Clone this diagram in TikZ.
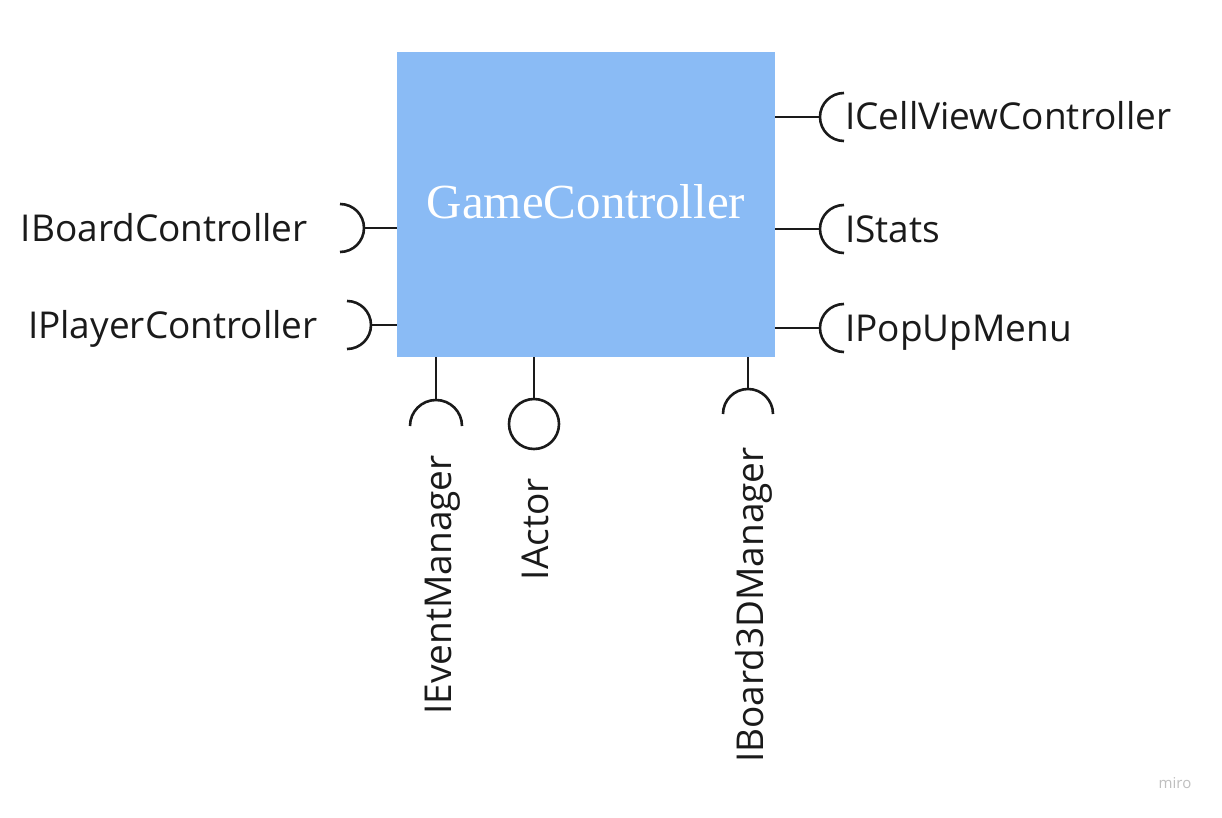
\documentclass[tikz,border=0pt]{standalone}
\usepackage{fontspec}
\setmainfont{Open Sans}
\newfontfamily\serifface{Liberation Serif}
\definecolor{boxblue}{HTML}{8ABBF5}
\definecolor{ink}{HTML}{1A1A1A}
\begin{document}
\begin{tikzpicture}[x=1pt,y=-1pt,
  wire/.style={draw=ink,line width=2.6pt},
  lbl/.style={text=ink,font=\fontsize{37}{40}\selectfont,inner sep=0pt},
  vlbl/.style={lbl,rotate=90,anchor=base east}]
\useasboundingbox (0,0) rectangle (1222,818);
\fill[white] (0,0) rectangle (1222,818);
% main box
\node[fill=boxblue,minimum width=378pt,minimum height=305pt,inner sep=0pt,anchor=north west] (gc) at (397,52) {};
\node[text=white,font=\serifface\fontsize{49}{53}\selectfont,inner sep=0pt] (gct) at (586,202) {GameController};
% left required interfaces
\coordinate (lb) at (363,228);
\coordinate (lp) at (372,325);
\draw[wire] (lb) -- (gc.west |- lb);
\draw[wire] (340,204) arc[start angle=-90,end angle=90,radius=24];
\draw[wire] (lp) -- (gc.west |- lp);
\draw[wire] (347,301) arc[start angle=-90,end angle=90,radius=24];
\node[lbl,anchor=base east] (ibc) at (308,241) {IBoardController};
\node[lbl,anchor=base east] (ipc) at (318,338) {IPlayerController};
% right required interfaces
\coordinate (rc) at (820,117);
\coordinate (rs) at (820,229);
\coordinate (rp) at (820,328);
\draw[wire] (gc.east |- rc) -- (rc);
\draw[wire] (844,93) arc[start angle=-90,end angle=-270,radius=24];
\draw[wire] (gc.east |- rs) -- (rs);
\draw[wire] (844,205) arc[start angle=-90,end angle=-270,radius=24];
\draw[wire] (gc.east |- rp) -- (rp);
\draw[wire] (844,304) arc[start angle=-90,end angle=-270,radius=24];
\node[lbl,anchor=base west] (icv) at (845,130) {ICellViewController};
\node[lbl,anchor=base west] (ist) at (845,242) {IStats};
\node[lbl,anchor=base west] (ipm) at (845,341) {IPopUpMenu};
% bottom
\coordinate (be) at (436,400);
\coordinate (ba) at (534,398);
\coordinate (bb) at (748,389);
\draw[wire] (gc.south -| be) -- (be);
\draw[wire] (410,426) arc[start angle=180,end angle=360,radius=26];
\node[circle,draw=ink,line width=2.6pt,minimum size=50pt,inner sep=0pt] (act) at (534,424) {};
\draw[wire] (gc.south -| ba) -- (act.north);
\draw[wire] (gc.south -| bb) -- (bb);
\draw[wire] (723,414) arc[start angle=180,end angle=360,radius=25];
\node[vlbl] (iem) at (451,455) {IEventManager};
\node[vlbl] (iac) at (548,478) {IActor};
\node[vlbl] (ib3) at (763,447) {IBoard3DManager};
% watermark
\node[text=black!25,font=\fontsize{15}{16}\selectfont,inner sep=0pt] (miro) at (1175,783) {miro};
\end{tikzpicture}
\end{document}
